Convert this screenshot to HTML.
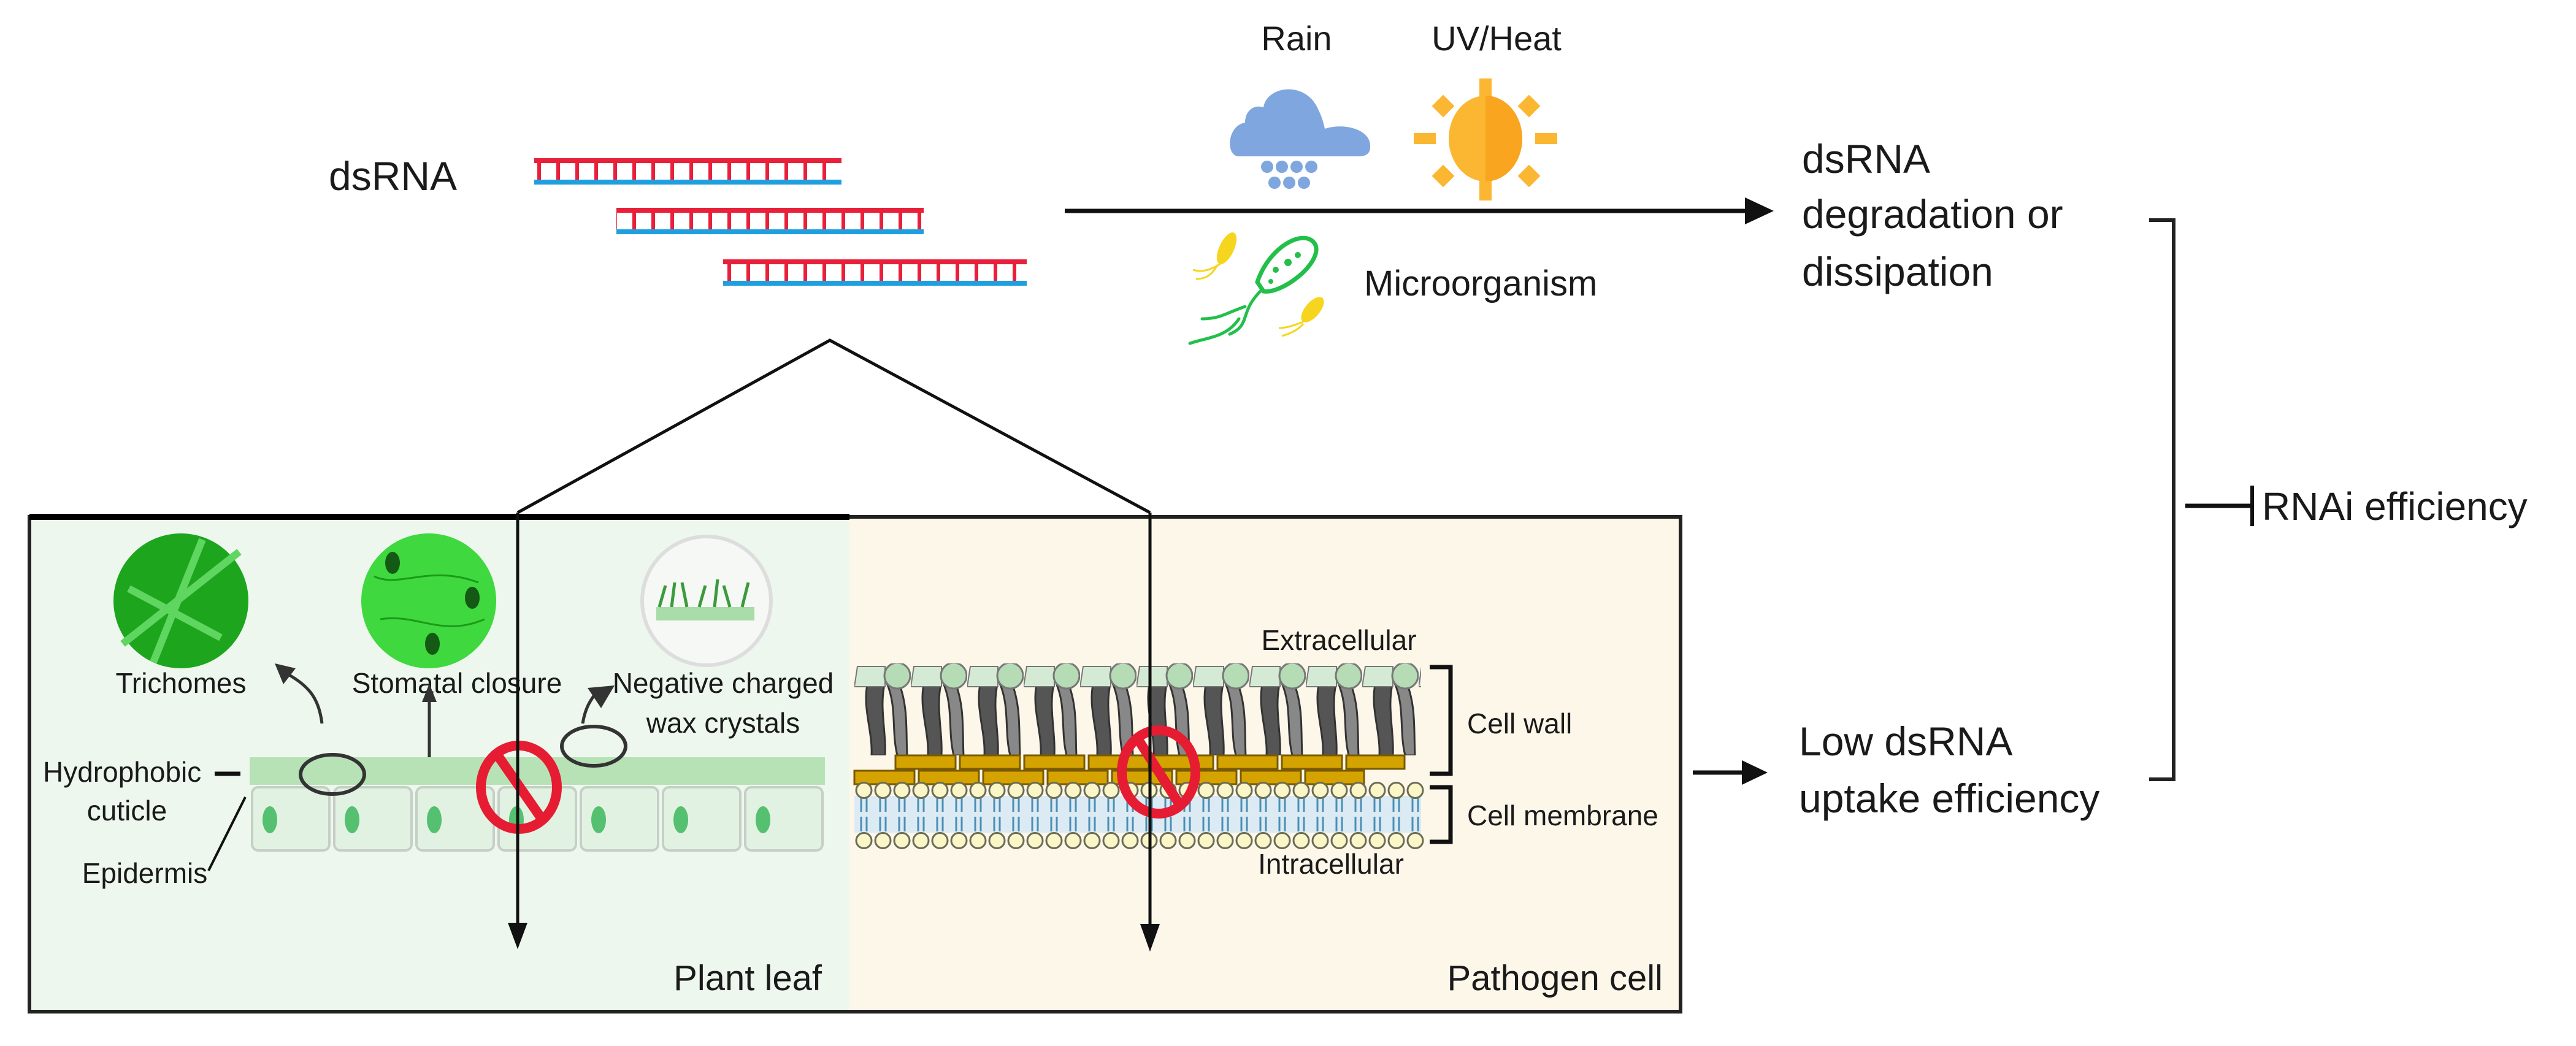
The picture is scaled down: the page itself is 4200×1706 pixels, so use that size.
<!DOCTYPE html>
<html><head><meta charset="utf-8"><style>
html,body{margin:0;padding:0;background:#fff;}
svg{display:block;}
text{font-family:"Liberation Sans",sans-serif;fill:#1a1a1a;}
</style></head><body>
<svg width="4200" height="1706" viewBox="0 0 4200 1706" xmlns="http://www.w3.org/2000/svg">
<defs>
<pattern id="rung" x="0" y="0" width="31" height="1706" patternUnits="userSpaceOnUse">
<rect x="8" y="0" width="6" height="1706" fill="#e8203a"/>
</pattern>
<pattern id="beadT" x="1393" y="1274" width="31" height="30" patternUnits="userSpaceOnUse">
<circle cx="15.5" cy="15" r="12.5" fill="#fbf6c8" stroke="#6b6b55" stroke-width="3"/>
</pattern>
<pattern id="beadB" x="1393" y="1356" width="31" height="30" patternUnits="userSpaceOnUse">
<circle cx="15.5" cy="15" r="12.5" fill="#fbf6c8" stroke="#6b6b55" stroke-width="3"/>
</pattern>
<pattern id="tails" x="1393" y="1300" width="31" height="56" patternUnits="userSpaceOnUse">
<path d="M11 0 V24 M20 0 V24 M11 32 V56 M20 32 V56" stroke="#4a8fb5" stroke-width="3" fill="none"/>
</pattern>
<pattern id="wall" x="1393" y="1082" width="92" height="160" patternUnits="userSpaceOnUse">
<path d="M22 30 C12 70 30 110 28 150 L50 150 C52 110 40 70 50 30 Z" fill="#555" stroke="#333" stroke-width="3"/>
<path d="M52 30 C70 70 60 110 70 150 L86 150 C84 110 88 70 72 30 Z" fill="#888" stroke="#333" stroke-width="3"/>
<path d="M5 5 L50 5 L50 38 L0 38 Z" fill="#d4ead4" stroke="#777" stroke-width="2"/>
<circle cx="70" cy="20" r="21" fill="#b5dcb5" stroke="#777" stroke-width="3"/>
</pattern>
</defs>

<!-- dsRNA -->
<text x="536" y="310" font-size="66">dsRNA</text>
<g>
<rect x="871" y="262" width="501" height="34" fill="url(#rung)"/>
<rect x="871" y="258" width="501" height="8" fill="#e8203a"/>
<rect x="871" y="293" width="501" height="8" fill="#1ea0e0"/>
<rect x="1005" y="343" width="501" height="34" fill="url(#rung)"/>
<rect x="1005" y="339" width="501" height="8" fill="#e8203a"/>
<rect x="1005" y="374" width="501" height="8" fill="#1ea0e0"/>
<rect x="1179" y="427" width="495" height="34" fill="url(#rung)"/>
<rect x="1179" y="423" width="495" height="8" fill="#e8203a"/>
<rect x="1179" y="458" width="495" height="8" fill="#1ea0e0"/>
</g>

<!-- Rain / UV -->
<text x="2114" y="82" font-size="56" text-anchor="middle">Rain</text>
<text x="2440" y="82" font-size="56" text-anchor="middle">UV/Heat</text>
<g fill="#7fa6df">
<path d="M2020 255 C1998 255 2000 205 2030 200 C2030 180 2045 170 2060 175 C2065 140 2130 130 2150 180 C2155 190 2158 200 2160 210 C2190 200 2236 210 2234 240 C2234 252 2225 255 2215 255 Z"/>
<circle cx="2066" cy="272" r="10"/><circle cx="2090" cy="272" r="10"/><circle cx="2114" cy="272" r="10"/><circle cx="2138" cy="272" r="10"/>
<circle cx="2078" cy="298" r="10"/><circle cx="2102" cy="298" r="10"/><circle cx="2126" cy="298" r="10"/>
</g>
<g fill="#fbb731">
<ellipse cx="2422" cy="226" rx="60" ry="70"/>
<rect x="2412" y="128" width="20" height="32"/><rect x="2412" y="295" width="20" height="32"/>
<rect x="2305" y="217" width="36" height="18"/><rect x="2503" y="217" width="36" height="18"/>
<rect x="2340" y="160" width="26" height="26" transform="rotate(45 2353 173)"/>
<rect x="2480" y="160" width="26" height="26" transform="rotate(45 2493 173)"/>
<rect x="2340" y="274" width="26" height="26" transform="rotate(45 2353 287)"/>
<rect x="2480" y="274" width="26" height="26" transform="rotate(45 2493 287)"/>
</g>
<path d="M2422 156 A60 70 0 0 1 2422 296 Z" fill="#f9a51f"/>

<!-- main arrow -->
<line x1="1736" y1="344" x2="2850" y2="344" stroke="#111" stroke-width="7"/>
<polygon points="2845,322 2892,344 2845,366" fill="#111"/>

<!-- microorganism -->
<g fill="none" stroke-linecap="round">
<path d="M2050 460 C2070 400 2130 370 2145 400 C2155 430 2090 480 2060 475 Z" stroke="#22c04a" stroke-width="7"/>
<path d="M2055 475 C2020 510 2040 530 2005 545 M2030 500 C2000 510 1990 520 1960 520 M2020 520 C2000 550 1970 550 1940 560" stroke="#22c04a" stroke-width="5"/>
<circle cx="2080" cy="440" r="5" fill="#22c04a" stroke="none"/>
<circle cx="2100" cy="428" r="6" fill="#22c04a" stroke="none"/>
<circle cx="2116" cy="416" r="5" fill="#22c04a" stroke="none"/>
<circle cx="2072" cy="459" r="4" fill="#22c04a" stroke="none"/>
</g>
<ellipse cx="2000" cy="405" rx="12" ry="28" transform="rotate(25 2000 405)" fill="#f5d51d"/>
<path d="M1990 430 C1975 440 1960 445 1945 440 M1985 432 C1975 450 1965 455 1950 455" stroke="#f5d51d" stroke-width="3" fill="none"/>
<ellipse cx="2140" cy="505" rx="12" ry="25" transform="rotate(40 2140 505)" fill="#f5d51d"/>
<path d="M2125 525 C2110 530 2100 535 2085 535 M2125 528 C2115 540 2100 545 2090 548" stroke="#f5d51d" stroke-width="3" fill="none"/>
<text x="2224" y="482" font-size="58">Microorganism</text>

<!-- degradation -->
<text x="2938" y="282" font-size="66">dsRNA</text>
<text x="2938" y="372" font-size="66">degradation or</text>
<text x="2938" y="466" font-size="66">dissipation</text>

<!-- bracket -->
<path d="M3504 359 H3544 V1271 H3504" stroke="#222" stroke-width="6" fill="none"/>
<line x1="3563" y1="825" x2="3672" y2="825" stroke="#111" stroke-width="7"/>
<line x1="3672" y1="792" x2="3672" y2="858" stroke="#111" stroke-width="6"/>
<text x="3688" y="848" font-size="64">RNAi efficiency</text>

<text x="2933" y="1232" font-size="66">Low dsRNA</text>
<text x="2933" y="1325" font-size="66">uptake efficiency</text>
<line x1="2760" y1="1260" x2="2845" y2="1260" stroke="#111" stroke-width="7"/>
<polygon points="2840,1240 2882,1260 2840,1280" fill="#111"/>

<!-- box -->
<rect x="48" y="843" width="1337" height="807" fill="#eef7ee"/>
<rect x="1385" y="843" width="1355" height="807" fill="#fdf7ea"/>
<rect x="48" y="843" width="2692" height="807" fill="none" stroke="#222" stroke-width="6"/>
<line x1="48" y1="843" x2="1385" y2="843" stroke="#000" stroke-width="10"/>
<text x="1340" y="1615" font-size="58" text-anchor="end">Plant leaf</text>
<text x="2711" y="1615" font-size="58" text-anchor="end">Pathogen cell</text>

<!-- plant circles -->
<circle cx="295" cy="980" r="110" fill="#1ea51e"/>
<path d="M200 1050 L390 900 M250 1080 L330 880 M210 960 L360 1040" stroke="#5fd65f" stroke-width="12" fill="none"/>
<circle cx="699" cy="980" r="110" fill="#3fd83f"/>
<path d="M610 940 C650 960 700 920 780 950 M620 1010 C680 1000 720 1040 790 1010" stroke="#1a9a1a" stroke-width="3" fill="none"/>
<ellipse cx="640" cy="918" rx="12" ry="18" fill="#145a14"/><ellipse cx="770" cy="975" rx="12" ry="18" fill="#145a14"/><ellipse cx="705" cy="1050" rx="12" ry="18" fill="#145a14"/>
<circle cx="1152" cy="980" r="105" fill="#f5f8f5" stroke="#ddd" stroke-width="6"/>
<rect x="1070" y="990" width="160" height="22" fill="#a8dca8"/>
<path d="M1075 990 L1085 955 M1095 990 L1100 950 M1120 990 L1112 950 M1140 990 L1150 955 M1165 990 L1170 945 M1190 990 L1180 955 M1210 990 L1220 950" stroke="#3c9a3c" stroke-width="5"/>

<text x="295" y="1130" font-size="46" text-anchor="middle">Trichomes</text>
<text x="745" y="1130" font-size="46" text-anchor="middle">Stomatal closure</text>
<text x="1179" y="1130" font-size="46" text-anchor="middle">Negative charged</text>
<text x="1179" y="1195" font-size="46" text-anchor="middle">wax crystals</text>

<!-- small arrows -->
<path d="M525 1180 C520 1140 505 1120 470 1100" stroke="#333" stroke-width="5" fill="none"/>
<polygon points="448,1082 482,1090 462,1116" fill="#333"/>
<line x1="700" y1="1235" x2="700" y2="1140" stroke="#333" stroke-width="5"/>
<polygon points="688,1145 700,1115 712,1145" fill="#333"/>
<path d="M950 1180 C955 1150 965 1140 975 1125" stroke="#333" stroke-width="5" fill="none"/>
<polygon points="958,1122 1002,1118 980,1155" fill="#333"/>

<!-- cuticle & cells -->
<rect x="407" y="1235" width="938" height="45" fill="#b6e2b6"/>
<g fill="#e2f2e2" stroke="#c6cfc6" stroke-width="4">
<rect x="411" y="1284" width="126" height="103" rx="10"/>
<rect x="545" y="1284" width="126" height="103" rx="10"/>
<rect x="679" y="1284" width="126" height="103" rx="10"/>
<rect x="813" y="1284" width="126" height="103" rx="10"/>
<rect x="947" y="1284" width="126" height="103" rx="10"/>
<rect x="1081" y="1284" width="126" height="103" rx="10"/>
<rect x="1215" y="1284" width="126" height="103" rx="10"/>
</g>
<g fill="#55c070">
<ellipse cx="440" cy="1337" rx="12" ry="22"/><ellipse cx="574" cy="1337" rx="12" ry="22"/><ellipse cx="708" cy="1337" rx="12" ry="22"/><ellipse cx="842" cy="1337" rx="12" ry="22"/><ellipse cx="976" cy="1337" rx="12" ry="22"/><ellipse cx="1110" cy="1337" rx="12" ry="22"/><ellipse cx="1244" cy="1337" rx="12" ry="22"/>
</g>
<ellipse cx="542" cy="1263" rx="52" ry="32" fill="none" stroke="#333" stroke-width="6"/>
<ellipse cx="968" cy="1217" rx="52" ry="32" fill="none" stroke="#333" stroke-width="6"/>
<text x="70" y="1275" font-size="46">Hydrophobic</text>
<line x1="350" y1="1262" x2="392" y2="1262" stroke="#111" stroke-width="7"/>
<text x="207" y="1338" font-size="46" text-anchor="middle">cuticle</text>
<text x="236" y="1440" font-size="46" text-anchor="middle">Epidermis</text>
<line x1="340" y1="1420" x2="400" y2="1300" stroke="#111" stroke-width="4"/>
<ellipse cx="846" cy="1284" rx="62" ry="68" fill="none" stroke="#e51c32" stroke-width="16"/>
<line x1="810" y1="1230" x2="885" y2="1338" stroke="#e51c32" stroke-width="16"/>

<!-- pathogen wall -->
<rect x="1393" y="1082" width="924" height="150" fill="url(#wall)"/>
<g fill="#d4a300" stroke="#7a5a00" stroke-width="3">
<rect x="1460" y="1232" width="98" height="22"/><rect x="1565" y="1232" width="98" height="22"/><rect x="1670" y="1232" width="98" height="22"/><rect x="1775" y="1232" width="98" height="22"/><rect x="1880" y="1232" width="98" height="22"/><rect x="1985" y="1232" width="98" height="22"/><rect x="2090" y="1232" width="98" height="22"/><rect x="2195" y="1232" width="95" height="22"/>
<rect x="1393" y="1257" width="98" height="22"/><rect x="1498" y="1257" width="98" height="22"/><rect x="1603" y="1257" width="98" height="22"/><rect x="1708" y="1257" width="98" height="22"/><rect x="1813" y="1257" width="98" height="22"/><rect x="1918" y="1257" width="98" height="22"/><rect x="2023" y="1257" width="98" height="22"/><rect x="2128" y="1257" width="96" height="22"/>
</g>
<rect x="1393" y="1298" width="924" height="60" fill="#dbeaf3"/>
<rect x="1393" y="1300" width="930" height="56" fill="url(#tails)"/>
<rect x="1393" y="1274" width="930" height="30" fill="url(#beadT)"/>
<rect x="1393" y="1356" width="930" height="30" fill="url(#beadB)"/>
<ellipse cx="1889" cy="1259" rx="60" ry="68" fill="none" stroke="#e51c32" stroke-width="16"/>
<line x1="1855" y1="1205" x2="1925" y2="1315" stroke="#e51c32" stroke-width="16"/>

<text x="2183" y="1060" font-size="46" text-anchor="middle">Extracellular</text>
<text x="2170" y="1425" font-size="46" text-anchor="middle">Intracellular</text>
<path d="M2331 1088 H2365 V1262 H2331" stroke="#111" stroke-width="7" fill="none"/>
<path d="M2331 1284 H2365 V1373 H2331" stroke="#111" stroke-width="7" fill="none"/>
<text x="2392" y="1196" font-size="46">Cell wall</text>
<text x="2392" y="1346" font-size="46">Cell membrane</text>

<!-- triangle & down arrows -->
<polyline points="844,836 1353,555 1875,836" fill="none" stroke="#111" stroke-width="5"/>
<line x1="844" y1="836" x2="844" y2="1510" stroke="#111" stroke-width="5"/>
<polygon points="828,1505 860,1505 844,1548" fill="#111"/>
<line x1="1875" y1="836" x2="1875" y2="1512" stroke="#111" stroke-width="5"/>
<polygon points="1859,1507 1891,1507 1875,1552" fill="#111"/>
</svg>
</body></html>
